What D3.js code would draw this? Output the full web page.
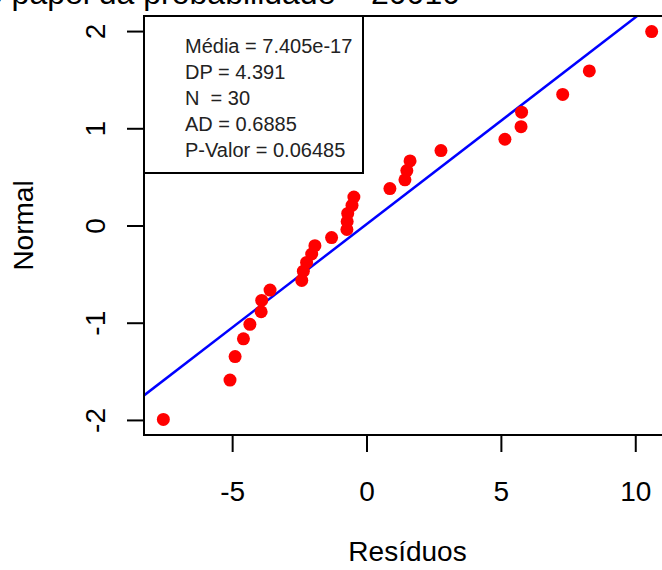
<!DOCTYPE html>
<html>
<head>
<meta charset="utf-8">
<script src="https://cdn.jsdelivr.net/npm/d3@7"></script>
<style>
  body { margin: 0; background: #fff; }
  svg { display: block; font-family: "Liberation Sans", Arial, sans-serif; }
</style>
</head>
<body>
<div id="chart"></div>
<script>
// residuals (sorted) and the normal quantiles they are plotted against
const residuos = [-7.56, -5.08, -4.89, -4.58, -4.34, -3.92, -3.90, -3.59, -2.41, -2.35,
  -2.23, -2.04, -1.92, -1.30, -0.73, -0.72, -0.70, -0.54, -0.47, 0.87,
  1.43, 1.50, 1.62, 2.77, 5.15, 5.75, 5.77, 7.30, 8.29, 10.61];
const normalQ = [-1.995, -1.590, -1.348, -1.166, -1.017, -0.887, -0.771, -0.664, -0.565, -0.470,
  -0.380, -0.293, -0.208, -0.124, -0.041, 0.041, 0.124, 0.208, 0.293, 0.380,
  0.470, 0.565, 0.664, 0.771, 0.887, 1.017, 1.166, 1.348, 1.590, 1.995];

// reference line, two points
const lineX = [-8.28, 11.33];
const lineY = [-1.748, 2.423];

const xTicks = [-5, 0, 5, 10];
const yTicks = [-2, -1, 0, 1, 2];
const legendLines = ["Média = 7.405e-17", "DP = 4.391", "N  = 30", "AD = 0.6885", "P-Valor = 0.06485"];

const titleText = "Gráfico do papel da probabilidade – 20010";
const xTitle = "Resíduos";
const yTitle = "Normal";

const width = 662;
const height = 570;
const plot = { left: 144, top: 16, right: 671, bottom: 435 };

const svg = d3.select("#chart")
  .append("svg")
  .attr("width", width)
  .attr("height", height);

const x = d3.scaleLinear().domain([-8.28, 11.33]).range([plot.left, plot.right]);
const y = d3.scaleLinear().domain([-2.155, 2.155]).range([plot.bottom, plot.top]);

svg.append("defs").append("clipPath").attr("id", "clip")
  .append("rect")
  .attr("x", plot.left).attr("y", plot.top)
  .attr("width", plot.right - plot.left).attr("height", plot.bottom - plot.top);

// title (cut off at the top of the picture, as in the original)
svg.append("text")
  .attr("x", 460).attr("y", 4)
  .attr("text-anchor", "end")
  .style("font-size", "32px")
  .text(titleText);

// x axis
const xAxis = d3.axisBottom(x).tickValues(xTicks).tickSize(17).tickPadding(29)
  .tickFormat(d => String(d));
const gx = svg.append("g")
  .attr("transform", `translate(0,${plot.bottom})`)
  .call(xAxis);
gx.select(".domain").remove();
gx.selectAll("line").attr("stroke", "#000").attr("stroke-width", 2);
gx.selectAll("text").attr("fill", "#000").style("font-size", "28px")
  .style("font-family", "'Liberation Sans', Arial, sans-serif");

// y axis, labels turned like R does
const yAxis = d3.axisLeft(y).tickValues(yTicks).tickSize(17)
  .tickFormat(d => String(d));
const gy = svg.append("g")
  .attr("transform", `translate(${plot.left},0)`)
  .call(yAxis);
gy.select(".domain").remove();
gy.selectAll("line").attr("stroke", "#000").attr("stroke-width", 2);
gy.selectAll("text")
  .attr("transform", "rotate(-90)")
  .attr("x", 0).attr("y", -39).attr("dy", null)
  .attr("text-anchor", "middle")
  .attr("fill", "#000")
  .style("font-size", "28px")
  .style("font-family", "'Liberation Sans', Arial, sans-serif");

// axis titles
svg.append("text")
  .attr("x", (plot.left + plot.right) / 2).attr("y", 561)
  .attr("text-anchor", "middle")
  .style("font-size", "28px")
  .text(xTitle);

svg.append("text")
  .attr("transform", `translate(33,${y(0)}) rotate(-90)`)
  .attr("text-anchor", "middle")
  .style("font-size", "28px")
  .text(yTitle);

// reference line
svg.append("line")
  .attr("clip-path", "url(#clip)")
  .attr("x1", x(lineX[0])).attr("y1", y(lineY[0]))
  .attr("x2", x(lineX[1])).attr("y2", y(lineY[1]))
  .attr("stroke", "#0000ff")
  .attr("stroke-width", 2.5);

// points
svg.selectAll(".pt")
  .data(residuos)
  .join("circle")
  .attr("class", "pt")
  .attr("cx", d => x(d))
  .attr("cy", (d, i) => y(normalQ[i]))
  .attr("r", 6.5)
  .attr("fill", "#ff0000");

// plot frame
svg.append("rect")
  .attr("x", plot.left).attr("y", plot.top)
  .attr("width", plot.right - plot.left).attr("height", plot.bottom - plot.top)
  .attr("fill", "none")
  .attr("stroke", "#000")
  .attr("stroke-width", 2);

// legend box
const legend = svg.append("g");
legend.append("rect")
  .attr("x", plot.left).attr("y", plot.top)
  .attr("width", 219).attr("height", 157)
  .attr("fill", "#fff")
  .attr("stroke", "#000")
  .attr("stroke-width", 2);
legend.selectAll("text")
  .data(legendLines)
  .join("text")
  .attr("x", 185)
  .attr("y", (d, i) => 52.5 + i * 26)
  .style("font-size", "20px")
  .style("white-space", "pre")
  .attr("fill", "#222")
  .text(d => d);
</script>
</body>
</html>
